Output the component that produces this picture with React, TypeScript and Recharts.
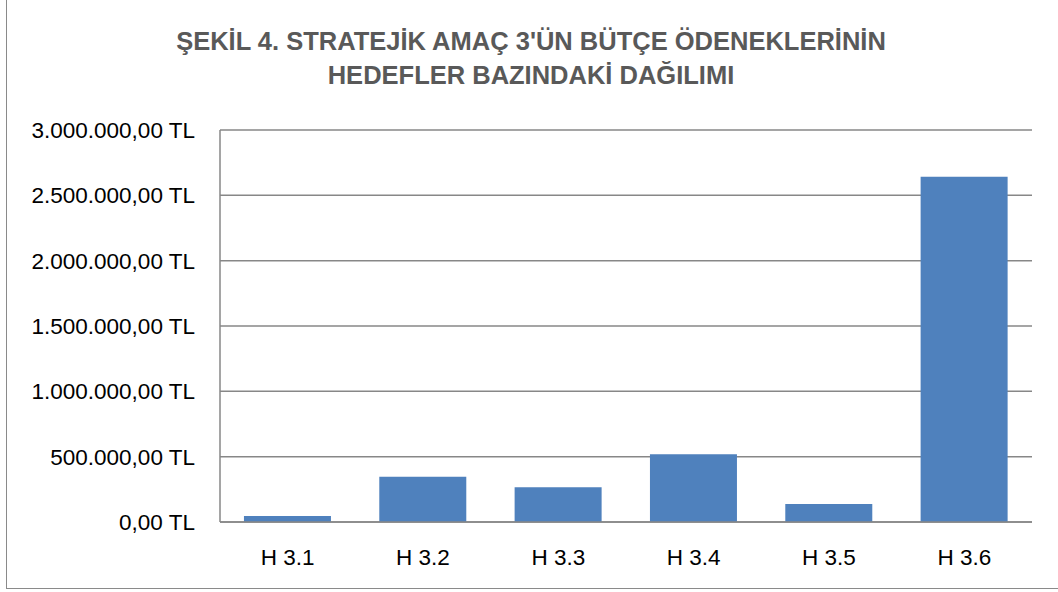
import React from "react";
import { BarChart, Bar, XAxis, YAxis, CartesianGrid } from "recharts";

const categories = ["H 3.1", "H 3.2", "H 3.3", "H 3.4", "H 3.5", "H 3.6"];
const values = [46000, 347000, 265000, 518000, 138000, 2643000];
const yTicks = [0, 500000, 1000000, 1500000, 2000000, 2500000, 3000000];
const titleLines = [
  "ŞEKİL 4. STRATEJİK AMAÇ 3'ÜN BÜTÇE ÖDENEKLERİNİN",
  "HEDEFLER BAZINDAKİ DAĞILIMI",
];

const data = categories.map((c, i) => ({ name: c, value: values[i] }));

function formatTL(v: number): string {
  const intPart = Math.round(v).toString().replace(/\B(?=(\d{3})+(?!\d))/g, ".");
  return `${intPart},00 TL`;
}

const FONT = "'Liberation Sans', Arial, sans-serif";
const GRID = "#878787";

export default function App() {
  return (
    <div
      style={{
        position: "fixed",
        left: 0,
        top: 0,
        width: 1058,
        height: 592,
        overflow: "hidden",
        background: "#fff",
      }}
    >
      <div
        style={{
          position: "absolute",
          left: 6,
          top: -4,
          width: 1060,
          height: 593,
          boxSizing: "border-box",
          borderLeft: "1.5px solid #8a8a8a",
          borderBottom: "1.5px solid #8a8a8a",
        }}
      />
      <BarChart
        width={1058}
        height={592}
        data={data}
        margin={{ top: 130, right: 26, bottom: 40, left: 0 }}
        barCategoryGap="17.7%"
      >
        <CartesianGrid vertical={false} stroke={GRID} strokeWidth={1.5} />
        <XAxis
          dataKey="name"
          height={30}
          tickLine={false}
          axisLine={{ stroke: GRID, strokeWidth: 1.5 }}
          tickMargin={21}
          tick={{ fill: "#000", fontSize: 22.5, fontFamily: FONT }}
          interval={0}
        />
        <YAxis
          width={220}
          domain={[0, 3000000]}
          ticks={yTicks}
          tickFormatter={formatTL}
          tickLine={false}
          axisLine={{ stroke: GRID, strokeWidth: 1.5 }}
          tickMargin={19}
          tick={{ fill: "#000", fontSize: 22.5, fontFamily: FONT }}
          interval={0}
        />
        <Bar dataKey="value" fill="#4F81BD" isAnimationActive={false} />
      </BarChart>
      <svg
        width={1058}
        height={120}
        style={{ position: "absolute", left: 0, top: 0, pointerEvents: "none" }}
      >
        {titleLines.map((t, i) => (
          <text
            key={i}
            x={531}
            y={50 + i * 34}
            textAnchor="middle"
            fontFamily={FONT}
            fontWeight="bold"
            fontSize={25.5}
            fill="#595959"
          >
            {t}
          </text>
        ))}
      </svg>
    </div>
  );
}
